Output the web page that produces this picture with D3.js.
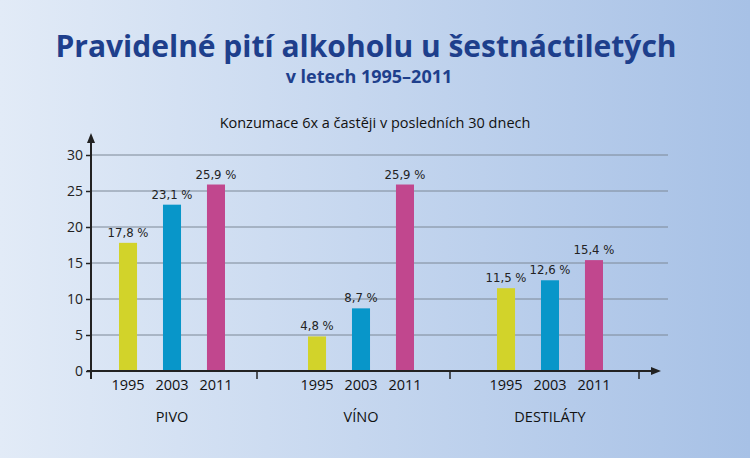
<!DOCTYPE html><html><head><meta charset="utf-8">
<script src="https://cdn.jsdelivr.net/npm/d3@7"></script>
<style>body{margin:0}svg{display:block}</style></head><body>
<script>
const groups=["PIVO","VÍNO","DESTILÁTY"];
const years=["1995","2003","2011"];
const values=[[17.8,23.1,25.9],[4.8,8.7,25.9],[11.5,12.6,15.4]];
const valueLabels=[["17,8 %","23,1 %","25,9 %"],["4,8 %","8,7 %","25,9 %"],["11,5 %","12,6 %","15,4 %"]];
const yTicks=[0,5,10,15,20,25,30];
const colors=["#d2d32a","#0896c9","#c1478e"];
const W=750,H=458;
const svg=d3.select("body").append("svg").attr("width",W).attr("height",H);
const defs=svg.append("defs");
const g0=defs.append("linearGradient").attr("id","bg");
g0.append("stop").attr("offset","0").attr("stop-color","#e2ebf7");
g0.append("stop").attr("offset","1").attr("stop-color","#a7c1e6");
svg.append("rect").attr("width",W).attr("height",H).attr("fill","url(#bg)");
const F="Open Sans, Liberation Sans, sans-serif";
svg.append("text").attr("x",366).attr("y",57).attr("text-anchor","middle").attr("font-family",F).attr("font-weight","bold").attr("font-size",30).attr("fill","#1e3f8c").text("Pravidelné pití alkoholu u šestnáctiletých");
svg.append("text").attr("x",369).attr("y",83).attr("text-anchor","middle").attr("font-family",F).attr("font-weight","bold").attr("font-size",18).attr("fill","#1e3f8c").text("v letech 1995–2011");
svg.append("text").attr("x",375).attr("y",128).attr("text-anchor","middle").attr("font-family",F).attr("font-size",14.5).attr("fill","#111").text("Konzumace 6x a častěji v posledních 30 dnech");

const y=d3.scaleLinear().domain([0,30]).range([371,155]);
const x=d3.scaleBand().domain(groups).range([84,651]);
const xi=d3.scaleBand().domain(years).range([35,141]).paddingInner(0.59);
const x0=91;
// gridlines
svg.append("g").selectAll("line").data(yTicks.slice(1)).join("line")
 .attr("x1",x0).attr("x2",668).attr("y1",d=>y(d)).attr("y2",d=>y(d)).attr("stroke","#7d8896").attr("stroke-width",1);
// y axis
const ya=svg.append("g").attr("transform",`translate(${x0},0)`).call(d3.axisLeft(y).tickValues(yTicks).tickSize(5).tickPadding(3));
ya.select(".domain").remove();
ya.selectAll("line").attr("stroke","#222").attr("stroke-width",1.5);
ya.selectAll("text").attr("font-family",F).attr("font-size",14).attr("fill","#222");
// bars
const gg=svg.append("g").selectAll("g").data(groups).join("g").attr("transform",d=>`translate(${x(d)},0)`);
gg.each(function(gname,gi){
 const s=d3.select(this);
 s.selectAll("rect").data(values[gi]).join("rect").attr("x",(d,i)=>xi(years[i])).attr("width",xi.bandwidth())
  .attr("y",d=>y(d)).attr("height",d=>y(0)-y(d)).attr("fill",(d,i)=>colors[i]);
 s.selectAll("text.v").data(values[gi]).join("text").attr("class","v").attr("x",(d,i)=>xi(years[i])+xi.bandwidth()/2)
  .attr("y",d=>y(d)-6).attr("text-anchor","middle").attr("font-family","Liberation Sans Narrow, DejaVu Sans Condensed, sans-serif")
  .attr("font-stretch","condensed").attr("font-size",13).attr("fill","#222").text((d,i)=>valueLabels[gi][i]);
 s.selectAll("text.yr").data(years).join("text").attr("class","yr").attr("x",d=>xi(d)+xi.bandwidth()/2).attr("y",390)
  .attr("text-anchor","middle").attr("font-family",F).attr("font-size",14.5).attr("fill","#111").text(d=>d);
 s.append("text").attr("x",xi("2003")+xi.bandwidth()/2).attr("y",422).attr("text-anchor","middle").attr("font-family",F).attr("font-size",14.5).attr("fill","#111").text(gname);
});
// axes lines with arrows
const ax=svg.append("g").attr("stroke","#222").attr("stroke-width",2);
ax.append("line").attr("x1",x0).attr("x2",x0).attr("y1",y(0)+8).attr("y2",140);
ax.append("line").attr("x1",x0-4).attr("x2",653).attr("y1",y(0)).attr("y2",y(0));
svg.append("path").attr("d",`M${x0-4},143 L${x0},133 L${x0+4},143 Z`).attr("fill","#222");
svg.append("path").attr("d",`M651,${y(0)-4} L661,${y(0)} L651,${y(0)+4} Z`).attr("fill","#222");
// separators
const seps=[x("PIVO")+x.bandwidth()-16, x("VÍNO")+x.bandwidth()-12, x("DESTILÁTY")+x.bandwidth()-12];
ax.selectAll("line.s").data(seps).join("line").attr("class","s").attr("stroke-width",1.5).attr("x1",d=>d).attr("x2",d=>d).attr("y1",y(0)).attr("y2",y(0)+8);
</script></body></html>
